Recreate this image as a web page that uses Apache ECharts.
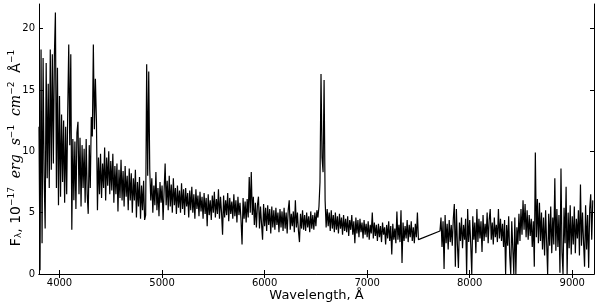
<!DOCTYPE html>
<html>
<head>
<meta charset="utf-8">
<script src="https://cdn.jsdelivr.net/npm/echarts@6/dist/echarts.min.js"></script>
<style>
  html, body { margin: 0; padding: 0; background: #fff; }
  #chart { width: 600px; height: 305px; }
</style>
</head>
<body>
<div id="chart"></div>
<script>
// blue part of the spectrum, 3800..7500 A every 10 A
var blueStart = 3800
var blueStep = 10
var blueFlux = [
  12.0, 0.3, 18.3, 2.5, 17.6, 8.0, 3.7, 17.2, 7.8, 15.5,
  7.0, 18.3, 8.5, 17.9, 9.0, 17.8, 21.3, 7.0, 16.8, 5.6,
  14.5, 6.3, 13.0, 7.5, 12.5, 5.8, 12.0, 6.5, 13.2, 18.7,
  10.5, 17.9, 3.6, 11.0, 6.0, 10.8, 5.3, 11.5, 12.4, 6.5,
  11.1, 5.5, 10.5, 7.0, 10.2, 5.8, 11.0, 6.5, 4.9, 10.5,
  7.0, 12.8, 11.2, 18.7, 11.8, 15.9, 12.5, 5.2, 9.5, 6.5,
  9.8, 6.2, 9.0, 7.0, 10.3, 6.0, 9.5, 7.2, 10.0, 6.5,
  9.2, 6.8, 9.8, 5.8, 8.8, 6.5, 9.0, 5.1, 8.5, 6.2,
  9.3, 6.0, 8.4, 5.5, 8.8, 6.3, 8.0, 5.2, 8.6, 6.0,
  8.2, 5.0, 7.8, 6.0, 8.5, 4.6, 7.5, 5.5, 7.9, 4.5,
  7.2, 5.2, 7.6, 4.4, 4.8, 17.1, 8.0, 16.5, 8.5, 6.0,
  7.8, 5.0, 7.2, 5.6, 8.3, 5.2, 7.0, 4.7, 7.5, 5.8,
  7.2, 4.4, 6.8, 9.0, 5.6, 7.6, 5.2, 8.0, 5.5, 7.3,
  5.0, 7.8, 5.6, 7.0, 4.9, 7.2, 5.4, 6.8, 5.0, 7.4,
  5.3, 6.9, 4.8, 7.0, 5.5, 6.6, 4.6, 6.8, 5.2, 7.1,
  5.0, 6.5, 4.5, 6.9, 5.3, 6.4, 4.7, 6.7, 5.1, 6.3,
  4.5, 6.6, 4.9, 6.2, 3.9, 6.5, 4.8, 6.0, 4.4, 6.4,
  5.0, 6.7, 4.6, 6.1, 4.9, 6.9, 4.5, 6.3, 5.0, 3.2,
  6.4, 4.6, 6.0, 4.8, 6.6, 4.3, 6.2, 4.9, 5.9, 4.5,
  6.5, 4.7, 6.0, 4.2, 6.3, 4.8, 5.8, 4.4, 2.4, 6.2,
  4.5, 5.9, 4.2, 6.1, 4.6, 7.9, 5.0, 8.3, 4.8, 6.3,
  4.0, 5.8, 3.8, 5.6, 6.3, 3.7, 5.5, 4.1, 2.8, 5.7,
  3.9, 5.4, 3.5, 5.6, 4.0, 5.3, 3.3, 5.5, 3.8, 5.2,
  3.6, 5.4, 4.0, 5.0, 3.4, 5.3, 3.8, 5.1, 3.5, 5.4,
  3.7, 5.0, 3.3, 5.2, 6.0, 3.6, 4.9, 3.9, 5.1, 3.4,
  6.0, 3.8, 5.0, 3.5, 2.6, 4.9, 3.7, 5.2, 3.6, 4.8,
  3.5, 5.0, 3.8, 4.7, 3.4, 5.1, 3.7, 4.8, 3.6, 5.0,
  3.9, 5.2, 4.6, 5.5, 7.5, 16.3, 9.5, 8.3, 15.8, 6.0,
  3.8, 5.3, 3.9, 5.0, 3.5, 5.2, 3.7, 4.8, 3.4, 5.0,
  3.6, 4.7, 3.3, 4.9, 3.7, 4.6, 3.2, 4.8, 3.5, 4.5,
  3.4, 4.7, 3.1, 4.4, 3.6, 4.8, 3.2, 4.3, 2.5, 4.6,
  3.3, 4.4, 3.0, 4.5, 3.4, 4.2, 2.9, 4.4, 3.2, 4.1,
  3.0, 4.3, 2.8, 4.0, 3.3, 5.0, 2.9, 4.2, 3.1, 4.0,
  2.7, 4.1, 3.0, 3.9, 2.6, 4.2, 3.2, 3.8, 2.4, 4.0,
  2.9, 4.3, 2.7, 3.9, 1.6, 4.1, 2.8, 3.7, 2.5, 5.1,
  2.8, 4.0, 2.6, 5.2, 0.9, 4.2, 2.7, 3.9, 2.9, 4.4,
  2.6, 4.0, 3.0, 4.3, 2.7, 3.8, 2.5, 4.1, 3.0, 5.0,
  2.8
]

// red part, 7710..9200 A every 10 A (gap before it is bridged by the line)
var redStart = 7710
var redStep = 10
var redFlux = [
  3.5, 4.6, 2.2, 4.3, 0.4, 4.8, 2.5, 4.1, 2.0,
  4.4, 2.6, 4.0, 2.3, 4.5, 5.7, 0.6, 5.3, 2.4, 0.5,
  4.2, 2.7, 4.6, 2.1, 4.0, 2.8, 4.5, 0.0, 5.3, 2.6,
  4.4, 2.4, 0.0, 4.7, 2.8, 4.2, 1.7, 5.3, 2.6, 4.5,
  2.9, 4.3, 1.8, 4.8, 2.7, 4.1, 3.0, 5.0, 2.5, 4.4,
  5.3, 2.8, 4.2, 2.4, 4.6, 3.0, 4.0, 2.6, 5.3, 2.9,
  4.5, 2.7, 4.1, 2.2, 4.4, 0.0, 4.0, 2.3, 4.7, 1.5,
  0.0, 4.3, 2.1, 0.0, 4.6, 0.0, 3.8, 2.4, 4.9, 2.7,
  5.3, 3.2, 6.0, 3.6, 5.7, 3.0, 5.2, 2.8, 4.8, 3.1,
  4.5, 2.2, 4.3, 0.6, 9.9, 3.0, 6.1, 2.5, 5.8, 2.7,
  5.0, 2.0, 4.6, 1.5, 5.2, 2.6, 0.0, 4.9, 2.3, 5.5,
  1.7, 4.6, 2.4, 7.8, 1.9, 5.3, 2.2, 4.8, 0.1, 8.6,
  1.8, 0.0, 5.4, 2.5, 7.1, 0.0, 5.0, 2.1, 5.6, 1.6,
  4.7, 2.4, 5.5, 1.7, 4.5, 2.9, 5.2, 1.5, 7.3, 2.3,
  5.0, 2.6, 0.6, 5.6, 2.0, 4.8, 0.5, 5.3, 6.5, 2.8,
  6.0
]

var xTicks = [4000, 5000, 6000, 7000, 8000, 9000]
var yTicks = [0, 5, 10, 15, 20]

var spectrum = []
blueFlux.forEach(function(f, i) {
  spectrum.push([blueStart + i * blueStep, f])
})
redFlux.forEach(function(f, i) {
  spectrum.push([redStart + i * redStep, f])
})

var chart = echarts.init(document.getElementById('chart'))

function plain(v) {
  return String(v)
}

function frameAxis(ticks) {
  return {
    axisLine: { show: true, lineStyle: { color: '#000', width: 1 } },
    axisTick: { show: true, inside: true, length: 4, customValues: ticks, lineStyle: { color: '#000' } },
    splitLine: { show: false }
  }
}

var option = {
  animation: false,
  grid: {
    left: 39,
    right: 6,
    top: 4,
    bottom: 31,
    containLabel: false,
    outerBoundsMode: 'none'
  },
  xAxis: [
    Object.assign(frameAxis(xTicks), {
      type: 'value',
      min: 3800,
      max: 9212,
      position: 'bottom',
      name: 'Wavelength, Å',
      nameLocation: 'middle',
      nameGap: 15,
      nameMoveOverlap: false,
      nameTextStyle: { fontFamily: 'DejaVu Sans', fontSize: 13, color: '#000' },
      axisLabel: {
        customValues: xTicks,
        formatter: plain,
        fontFamily: 'DejaVu Sans',
        fontSize: 10,
        color: '#000',
        margin: 4
      }
    }),
    Object.assign(frameAxis(xTicks), {
      type: 'value',
      min: 3800,
      max: 9212,
      position: 'top',
      axisLabel: { show: false }
    })
  ],
  yAxis: [
    Object.assign(frameAxis(yTicks), {
      type: 'value',
      min: 0,
      max: 22,
      position: 'left',
      name: '{n|F}{sub|λ}{n|, 10}{sup|−17}{i|  erg  s}{sup|−1}{i|  cm}{sup|−2}{n|  Å}{sup|−1}',
      nameLocation: 'middle',
      nameGap: 16,
      nameMoveOverlap: false,
      nameTextStyle: {
        fontFamily: 'DejaVu Sans',
        fontSize: 14,
        color: '#000',
        padding: [0, 18, 0, 0],
        rich: {
          n: { fontFamily: 'DejaVu Sans', fontSize: 14, color: '#000', lineHeight: 16, verticalAlign: 'bottom' },
          i: { fontFamily: 'DejaVu Serif', fontStyle: 'italic', fontSize: 14, color: '#000', lineHeight: 16, verticalAlign: 'bottom' },
          sup: { fontFamily: 'DejaVu Sans', fontSize: 9, color: '#000', lineHeight: 10, verticalAlign: 'top' },
          sub: { fontFamily: 'DejaVu Sans', fontSize: 9, color: '#000', lineHeight: 10, verticalAlign: 'bottom' }
        }
      },
      axisLabel: {
        customValues: yTicks,
        formatter: plain,
        fontFamily: 'DejaVu Sans',
        fontSize: 10,
        color: '#000',
        margin: 4
      }
    }),
    Object.assign(frameAxis(yTicks), {
      type: 'value',
      min: 0,
      max: 22,
      position: 'right',
      axisLabel: { show: false }
    })
  ],
  series: [
    {
      name: 'spectrum',
      type: 'line',
      xAxisIndex: 0,
      yAxisIndex: 0,
      data: spectrum,
      showSymbol: false,
      symbol: 'none',
      lineStyle: { color: '#000', width: 1.2 }
    }
  ]
}

chart.setOption(option)
</script>
</body>
</html>
